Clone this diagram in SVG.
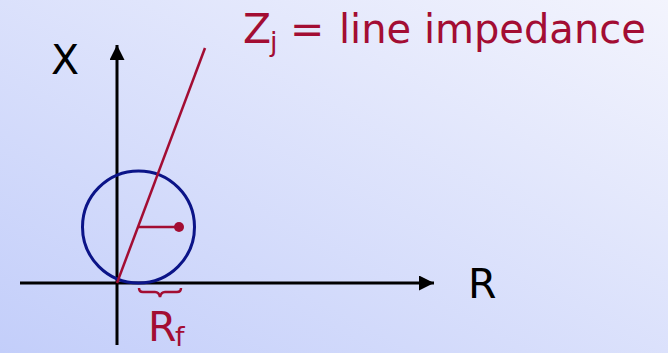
<svg xmlns="http://www.w3.org/2000/svg" width="668" height="353" viewBox="0 0 668 353">
<defs>
<linearGradient id="bg" x1="0" y1="1" x2="1" y2="0">
<stop offset="0" stop-color="#c3cefa"/>
<stop offset="1" stop-color="#f3f4fd"/>
</linearGradient>
<marker id="ah" viewBox="0 0 10 10" refX="10" refY="5" markerWidth="5" markerHeight="5" orient="auto" markerUnits="strokeWidth">
<path d="M0,0 L10,5 L0,10 Z" fill="#000"/>
</marker>
<style>
.ax{stroke:#000;stroke-width:3;fill:none}
.red{stroke:#a30d33;stroke-width:2.5;fill:none}
.lbl{font-family:"DejaVu Sans",sans-serif;font-size:41px;fill:#000}
.rl{font-family:"DejaVu Sans",sans-serif;fill:#a30d33;font-size:41px}
.sub{font-size:27px}
</style>
</defs>
<rect width="668" height="353" fill="url(#bg)"/>
<g id="connectors">
<line class="ax" x1="117" y1="345" x2="117" y2="45" marker-end="url(#ah)"/>
<line class="ax" x1="20" y1="283" x2="434" y2="283" marker-end="url(#ah)"/>
</g>
<g id="circle">
<circle cx="138.5" cy="227" r="56" fill="none" stroke="#0b1488" stroke-width="3"/>
</g>
<g id="impedance-line">
<line class="red" x1="117" y1="283" x2="205" y2="48"/>
<line class="red" x1="138" y1="227" x2="179" y2="227"/>
<circle cx="179" cy="227" r="5" fill="#a30d33"/>
</g>
<g id="brace">
<path class="red" stroke-width="2" d="M139,288 Q139,292 143,292 L155,292 Q159,292 160,297 Q161,292 165,292 L177,292 Q181,292 181,288"/>
</g>
<g id="labels">
<text class="lbl" x="51" y="74">X</text>
<text class="lbl" x="468" y="298">R</text>
<text class="rl" x="148" y="341">R<tspan class="sub" x="175" y="346">f</tspan></text>
<text class="rl" x="243" y="43">Z<tspan class="sub" x="270" y="51">j</tspan><tspan x="290" y="43">=</tspan><tspan x="339" y="43" font-size="40">line impedance</tspan></text>
</g>
</svg>
